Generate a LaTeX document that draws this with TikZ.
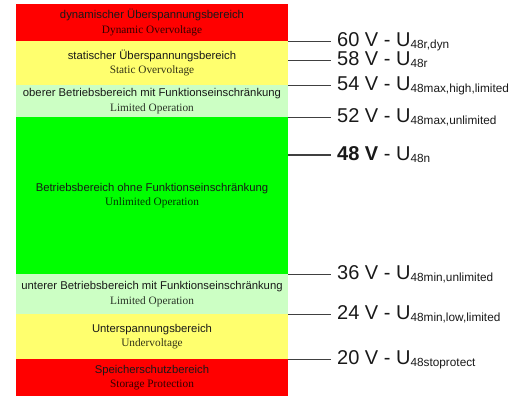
\documentclass[tikz,border=0pt]{standalone}
\usepackage{fontspec}
\setmainfont{Liberation Serif}
\setsansfont{Liberation Sans}
\usepackage{xcolor}
\definecolor{bandred}{HTML}{FF0000}
\definecolor{bandyellow}{HTML}{FFFF6E}
\definecolor{bandlight}{HTML}{CCFFC4}
\definecolor{bandgreen}{HTML}{00FF00}
\newcommand{\lowidx}[1]{\raisebox{-2pt}{\fontsize{11.8}{11.8}\selectfont #1}}
\newcommand{\bandtext}[3]{{\sffamily\color{black!90}#2}\\{\rmfamily\color{black!80!#1}#3}}

\begin{document}
\begin{tikzpicture}[x=1pt,y=-1pt,
  band/.style={inner sep=0pt, outer sep=0pt, minimum width=272pt, align=center,
    font=\fontsize{11.3}{14.5}\selectfont},
  voltage/.style={anchor=base west, inner xsep=6pt, inner ysep=0pt,
    font=\sffamily\fontsize{20}{20}\selectfont, text=black!90},
  tick/.style={draw=black!75, line width=1pt}]
  \useasboundingbox (0,0) rectangle (512,396);

  \node[band, fill=bandred, minimum height=37pt] (dyn) at (152,22.5)
    {\bandtext{bandred}{dynamischer Überspannungsbereich}{Dynamic Overvoltage}};
  \node[band, fill=bandyellow, minimum height=44pt] (stat) at (152,63)
    {\bandtext{bandyellow}{statischer Überspannungsbereich}{Static Overvoltage}};
  \node[band, fill=bandlight, minimum height=32pt] (upper) at (152,101)
    {\bandtext{bandlight}{oberer Betriebsbereich mit Funktionseinschränkung}{Limited Operation}};
  \node[band, fill=bandgreen, minimum height=157pt] (unlim) at (152,195.5)
    {\bandtext{bandgreen}{Betriebsbereich ohne Funktionseinschränkung}{Unlimited Operation}};
  \node[band, fill=bandlight, minimum height=40pt] (lower) at (152,294)
    {\bandtext{bandlight}{unterer Betriebsbereich mit Funktionseinschränkung}{Limited Operation}};
  \node[band, fill=bandyellow, minimum height=45pt] (under) at (152,336.5)
    {\bandtext{bandyellow}{Unterspannungsbereich}{Undervoltage}};
  \node[band, fill=bandred, minimum height=37pt] (store) at (152,377.5)
    {\bandtext{bandred}{Speicherschutzbereich}{Storage Protection}};

  \coordinate (t60) at (288,41.5);
  \coordinate (t58) at (288,60.5);
  \coordinate (t54) at (288,85.5);
  \coordinate (t52) at (288,117.5);
  \coordinate (t48) at (288,155);
  \coordinate (t36) at (288,274);
  \coordinate (t24) at (288,314);
  \coordinate (t20) at (288,359);

  \node[voltage] (l60) at (331,46.8) {60 V - U\lowidx{48r,dyn}};
  \node[voltage] (l58) at (331,65.8) {58 V - U\lowidx{48r}};
  \node[voltage] (l54) at (331,90.8) {54 V - U\lowidx{48max,high,limited}};
  \node[voltage] (l52) at (331,122.8) {52 V - U\lowidx{48max,unlimited}};
  \node[voltage] (l48) at (331,160.3) {\textbf{48 V} - U\lowidx{48n}};
  \node[voltage] (l36) at (331,279.3) {36 V - U\lowidx{48min,unlimited}};
  \node[voltage] (l24) at (331,319.3) {24 V - U\lowidx{48min,low,limited}};
  \node[voltage] (l20) at (331,364.3) {20 V - U\lowidx{48stoprotect}};

  \draw[tick] (t60) -- (t60 -| l60.west);
  \draw[tick] (t58) -- (t58 -| l58.west);
  \draw[tick] (t54) -- (t54 -| l54.west);
  \draw[tick] (t52) -- (t52 -| l52.west);
  \draw[tick, line width=1.8pt] (t48) -- (t48 -| l48.west);
  \draw[tick] (t36) -- (t36 -| l36.west);
  \draw[tick] (t24) -- (t24 -| l24.west);
  \draw[tick] (t20) -- (t20 -| l20.west);
\end{tikzpicture}
\end{document}
